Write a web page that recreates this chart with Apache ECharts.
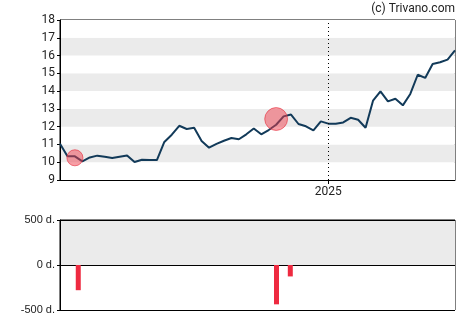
<!DOCTYPE html>
<html><head><meta charset="utf-8">
<script src="https://cdn.jsdelivr.net/npm/echarts@6/dist/echarts.min.js"></script>
<style>html,body{margin:0;padding:0;background:#fff}#c{width:470px;height:325px}</style>
</head><body><div id="c"></div>
<script>
// weekly closing prices (index 0..53), 2025 starts at week 36
const prices = [11.04,10.33,10.33,10.05,10.27,10.37,10.31,10.24,10.31,10.38,10.01,10.14,10.12,10.12,11.14,11.55,12.05,11.87,11.94,11.2,10.82,11.03,11.21,11.36,11.29,11.57,11.9,11.57,11.81,12.11,12.58,12.68,12.15,12.02,11.79,12.3,12.17,12.17,12.24,12.5,12.39,11.94,13.46,13.98,13.42,13.57,13.2,13.84,14.92,14.74,15.53,15.62,15.77,16.29];
const yearMarkIndex = 36;
const yearLabel = '2025';
const priceTicks = [9,10,11,12,13,14,15,16,17,18];
// insider transactions: position (week), price level, net amount (d.)
const tradeWeeks = [2.45, 29.05, 30.9];
const tradeAmounts = [-280, -437, -127];
const bubbleWeeks = [2, 29];
const bubblePrices = [10.25, 12.43];
const bubbleAmounts = [280, 564];
const volTicks = [-500, 0, 500];

const chart = echarts.init(document.getElementById('c'), null, {renderer:'canvas'});
const lineData = prices.map((v,i)=>[i,v]);
const bubbleData = bubbleWeeks.map((w,i)=>[w, bubblePrices[i], bubbleAmounts[i]]);
const barData = tradeWeeks.map((w,i)=>[w, tradeAmounts[i]]);
const font = 'Roboto, "Liberation Sans", Arial, sans-serif';

chart.setOption({
  animation:false,
  backgroundColor:'#fff',
  graphic:[{type:'text', right:15, top:3, style:{text:'(c) Trivano.com', font:'12px '+font, fill:'#222'}}],
  grid:[
    {left:60, right:15, top:20, height:160, show:true, borderColor:'#000', borderWidth:1, backgroundColor:'transparent'},
    {left:60, right:15, top:220, height:90, show:true, borderColor:'#000', borderWidth:1, backgroundColor:'transparent'}
  ],
  xAxis:[
    {type:'value', gridIndex:0, min:0, max:prices.length-1,
     axisLine:{show:true, lineStyle:{color:'#000'}},
     axisTick:{show:true, customValues:[yearMarkIndex], length:4, lineStyle:{color:'#000'}},
     axisLabel:{show:true, customValues:[yearMarkIndex], formatter:()=>yearLabel, color:'#222', fontSize:12, fontFamily:font, margin:6},
     splitLine:{show:false}},
    {type:'value', gridIndex:1, min:0, max:prices.length-1,
     axisLine:{show:false}, axisTick:{show:false}, axisLabel:{show:false}, splitLine:{show:false}}
  ],
  yAxis:[
    {type:'value', gridIndex:0, min:priceTicks[0], max:priceTicks[priceTicks.length-1], interval:1,
     axisLine:{show:true, lineStyle:{color:'#000'}},
     axisTick:{show:true, length:3, lineStyle:{color:'#000'}},
     axisLabel:{color:'#222', fontSize:12, fontFamily:font, margin:5},
     splitLine:{show:false},
     splitArea:{show:true, areaStyle:{color:['#ffffff','#ebebeb']}}},
    {type:'value', gridIndex:1, min:volTicks[0], max:volTicks[2], interval:500,
     axisLine:{show:true, lineStyle:{color:'#000'}},
     axisTick:{show:true, length:3, lineStyle:{color:'#000'}},
     axisLabel:{color:'#222', fontSize:11, fontFamily:'"Liberation Sans", Arial, sans-serif', margin:5, formatter:v=>v+' d.'},
     splitLine:{show:true, lineStyle:{color:'#000', width:1}},
     splitArea:{show:true, areaStyle:{color:['#ffffff','#ebebeb']}}}
  ],
  series:[
    {type:'line', xAxisIndex:0, yAxisIndex:0, data:lineData, symbol:'none',
     lineStyle:{color:'#123a59', width:2}, z:3,
     markLine:{silent:true, symbol:'none', label:{show:false},
       lineStyle:{color:'#000', type:[1,3], width:1},
       data:[{xAxis:yearMarkIndex}]}},
    {type:'scatter', xAxisIndex:0, yAxisIndex:0, data:bubbleData,
     symbolSize:d=>Math.sqrt(d[2])*0.96,
     itemStyle:{color:'rgba(238,60,75,0.62)', borderColor:'rgba(230,50,65,0.8)', borderWidth:1}, z:4},
    {type:'bar', xAxisIndex:1, yAxisIndex:1, data:barData, barWidth:5,
     itemStyle:{color:'#ee2a40'}, z:3}
  ]
});
</script></body></html>
